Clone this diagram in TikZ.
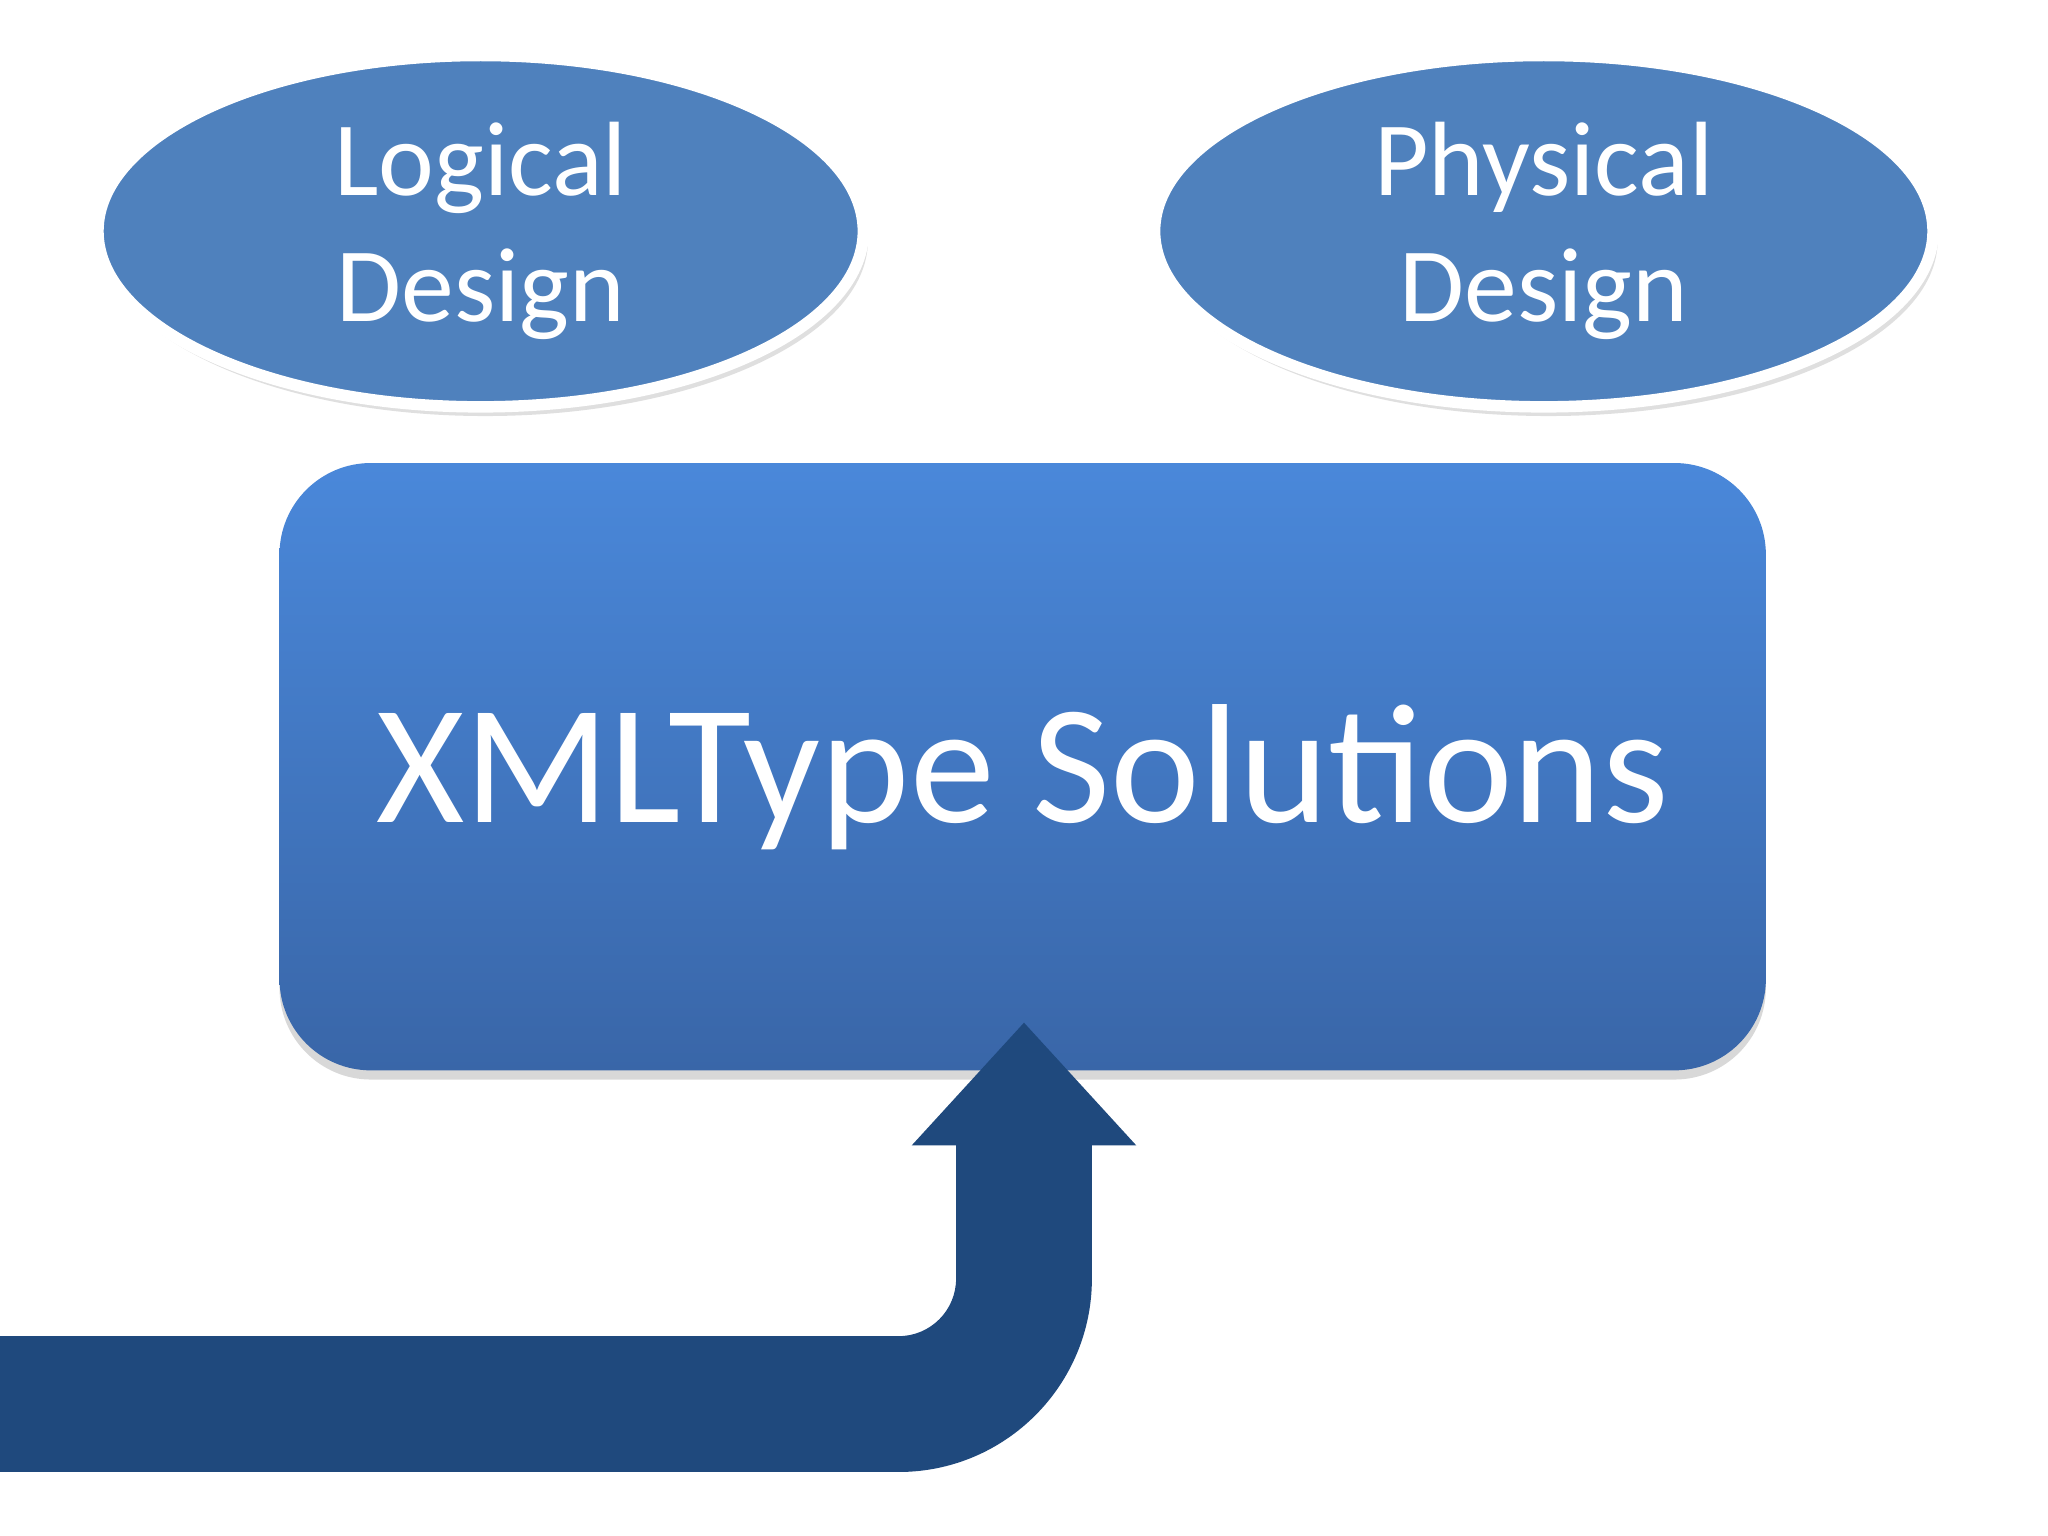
\documentclass[tikz,border=0pt]{standalone}
\usepackage{fontspec}
\setmainfont{Carlito}
\usetikzlibrary{shapes.geometric,shadows}
\definecolor{ellc}{HTML}{4F81BD}
\definecolor{rtop}{HTML}{4A88DA}
\definecolor{rbot}{HTML}{3966A8}
\definecolor{arr}{HTML}{1F497D}
\tikzset{ell/.style={ellipse,fill=ellc,draw=white,line width=2.5pt,text=white,align=center,font=\fontsize{23}{27.5}\selectfont,drop shadow={shadow xshift=1pt,shadow yshift=-2pt,opacity=0.25}}}
\begin{document}
\begin{tikzpicture}[x=0.01cm,y=-0.01cm]
\useasboundingbox[fill=white] (0,0) rectangle (1568,1176);
\node[ell,minimum width=586*0.01cm,minimum height=266*0.01cm] (ld) at (368,177) {Logical\\Design};
\node[ell,minimum width=596*0.01cm,minimum height=266*0.01cm] (pd) at (1182,177) {Physical\\Design};
\node[rounded corners=70*0.01cm,top color=rtop,bottom color=rbot,minimum width=1138*0.01cm,minimum height=465*0.01cm,text=white,font=\fontsize{37}{42}\selectfont,drop shadow={shadow xshift=0pt,shadow yshift=-2pt,opacity=0.3}] (xs) at (783,587) {\smash{\raisebox{-0.43cm}{XMLType Solutions}}};
\coordinate (tip) at (784,783);
\fill[arr] (0,1023) -- (688,1023) .. controls (712.3,1023) and (732,1003.3) .. (732,979) -- (732,877) -- (698,877) -- (tip) -- (870,877) -- (836,877) -- (836,979) .. controls (836,1060.7) and (769.7,1127) .. (688,1127) -- (0,1127) -- cycle;
\end{tikzpicture}
\end{document}
